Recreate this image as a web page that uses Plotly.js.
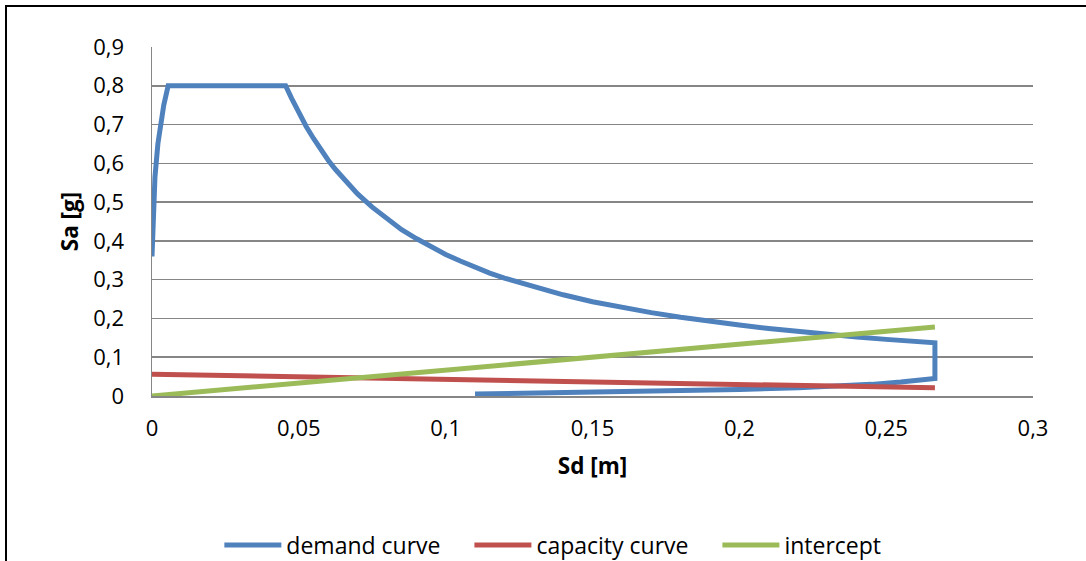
<!DOCTYPE html>
<html>
<head>
<meta charset="utf-8">
<script src="https://cdn.plot.ly/plotly-3.0.1.min.js"></script>
<style>
  html, body { margin: 0; padding: 0; overflow: hidden; background: #fff; }
  #chart { width: 1086px; height: 561px; }
  #frame { position: absolute; left: 5px; top: 5px; width: 3000px; height: 3000px;
           border-left: 2.5px solid #000; border-top: 2.5px solid #000; pointer-events: none; }
</style>
</head>
<body>
<div id="chart"></div>
<div id="frame"></div>
<script>
// Demand curve (ADRS): Sd [m], Sa [g]
const demandSd = [0, 0.0005, 0.001, 0.002, 0.003, 0.004, 0.0055, 0.0455,
  0.0475, 0.05, 0.0525, 0.055, 0.0575, 0.06, 0.0625, 0.065, 0.0675, 0.07, 0.075,
  0.08, 0.085, 0.09, 0.095, 0.10, 0.105, 0.11, 0.115, 0.12, 0.13, 0.14, 0.15,
  0.16, 0.17, 0.18, 0.19, 0.20, 0.21, 0.22, 0.23, 0.24, 0.25, 0.26, 0.2666,
  0.2666, 0.262, 0.255, 0.245, 0.235, 0.22, 0.20, 0.18, 0.16, 0.14, 0.12, 0.11];
const demandSa = [0.36, 0.48, 0.564, 0.65, 0.704, 0.75, 0.8, 0.8,
  0.768, 0.730, 0.695, 0.664, 0.635, 0.608, 0.584, 0.562, 0.541, 0.521, 0.487,
  0.456, 0.429, 0.406, 0.384, 0.365, 0.348, 0.332, 0.317, 0.304, 0.281, 0.261, 0.243,
  0.228, 0.215, 0.203, 0.192, 0.183, 0.174, 0.166, 0.159, 0.152, 0.146, 0.140, 0.137,
  0.045, 0.041, 0.036, 0.030, 0.026, 0.021, 0.017, 0.014, 0.011, 0.008, 0.006, 0.005];

// Capacity curve
const capacitySd = [0, 0.2666];
const capacitySa = [0.056, 0.021];

// Intercept
const interceptSd = [0, 0.2666];
const interceptSa = [0, 0.178];

const xTicks = [0, 0.05, 0.1, 0.15, 0.2, 0.25, 0.3];
const yTicks = [0, 0.1, 0.2, 0.3, 0.4, 0.5, 0.6, 0.7, 0.8, 0.9];

const FONT = '"Open Sans", "Liberation Sans", sans-serif';
const GRID = '#868686';
const PAD = '\u00a0\u00a0\u00a0\u00a0';

const traces = [
  { x: demandSd, y: demandSa, name: 'demand curve' + PAD, mode: 'lines',
    line: { color: '#4F81BD', width: 5 } },
  { x: capacitySd, y: capacitySa, name: 'capacity curve' + PAD, mode: 'lines',
    line: { color: '#C0504D', width: 5 } },
  { x: interceptSd, y: interceptSa, name: 'intercept', mode: 'lines',
    line: { color: '#9BBB59', width: 5 } }
];

const layout = {
  width: 1086, height: 561,
  margin: { l: 152, r: 53, t: 47, b: 165, pad: 0, autoexpand: false },
  paper_bgcolor: '#ffffff', plot_bgcolor: '#ffffff',
  separators: ', ',
  font: { family: FONT, size: 22, color: '#000' },
  showlegend: true,
  legend: { orientation: 'h', x: 0.455, xanchor: 'center', y: -0.427, yanchor: 'middle',
            font: { family: FONT, size: 23, color: '#000' }, itemwidth: 57,
            bgcolor: 'rgba(0,0,0,0)' },
  xaxis: {
    range: [0, 0.3], tickmode: 'array', tickvals: xTicks,
    ticktext: xTicks.map(v => String(v).replace('.', ',')),
    showgrid: false, zeroline: false, showline: true, linecolor: GRID, linewidth: 1.5,
    ticks: '', ticklabelstandoff: 12,
    tickfont: { family: FONT, size: 22, color: '#000' },
    title: { text: '<b>Sd [m]</b>', font: { family: FONT, size: 22.5, color: '#000' }, standoff: 17 }
  },
  yaxis: {
    range: [0, 0.9], tickmode: 'array', tickvals: yTicks,
    ticktext: yTicks.map(v => String(v).replace('.', ',')),
    showgrid: true, gridcolor: GRID, gridwidth: 1.5,
    zeroline: false, showline: true, linecolor: GRID, linewidth: 1.5,
    ticks: '', ticklabelstandoff: 22,
    tickfont: { family: FONT, size: 22, color: '#000' },
    title: { text: '<b>Sa [g]</b>', font: { family: FONT, size: 22.5, color: '#000' }, standoff: 8 }
  }
};

Plotly.newPlot('chart', traces, layout, { displayModeBar: false, staticPlot: true });
</script>
</body>
</html>
